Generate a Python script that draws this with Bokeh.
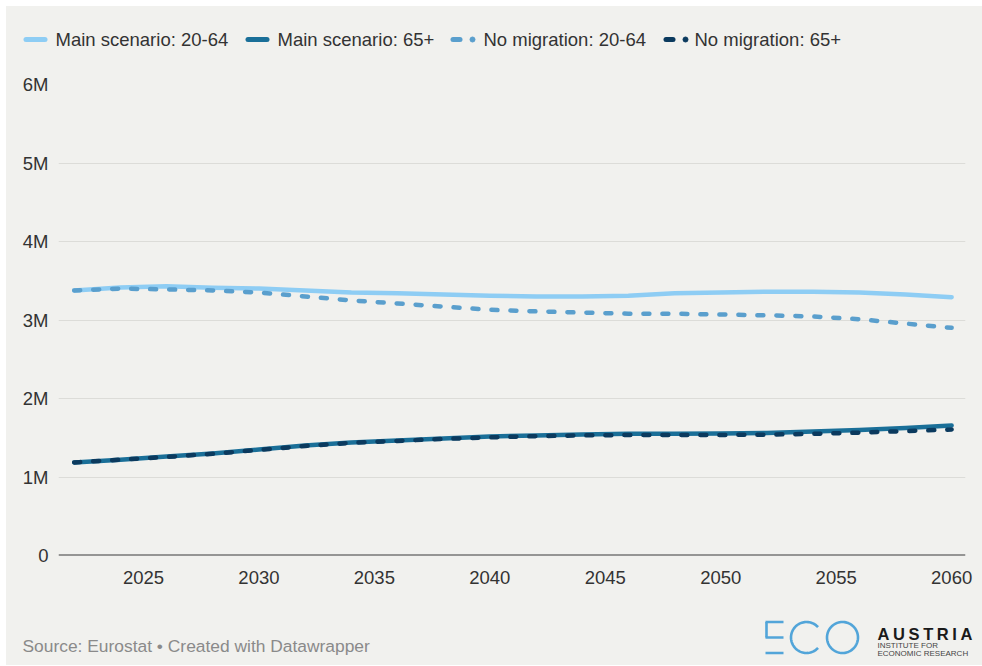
import numpy as np
from bokeh.plotting import figure
from bokeh.models import Range1d, Span, FixedTicker
from bokeh.core.properties import value
from bokeh.embed import file_html
from bokeh.resources import INLINE

# Working-age (20-64) and old-age (65+) population projections, Eurostat
years = [2022, 2024, 2026, 2028, 2030, 2032, 2034, 2036, 2038, 2040,
         2042, 2044, 2046, 2048, 2050, 2052, 2054, 2056, 2058, 2060]

main_20_64 = [3.376, 3.414, 3.430, 3.410, 3.400, 3.376, 3.350, 3.340, 3.325, 3.310,
              3.300, 3.300, 3.310, 3.340, 3.350, 3.360, 3.360, 3.350, 3.325, 3.290]
main_65 = [1.185, 1.220, 1.260, 1.300, 1.350, 1.400, 1.440, 1.465, 1.490, 1.515,
           1.530, 1.540, 1.550, 1.550, 1.555, 1.560, 1.580, 1.600, 1.625, 1.656]
nomig_20_64 = [3.376, 3.400, 3.390, 3.376, 3.350, 3.300, 3.250, 3.210, 3.170, 3.130,
               3.110, 3.095, 3.080, 3.080, 3.070, 3.060, 3.045, 3.010, 2.955, 2.900]
nomig_65 = [1.185, 1.220, 1.255, 1.295, 1.345, 1.395, 1.435, 1.460, 1.485, 1.505,
            1.520, 1.530, 1.535, 1.535, 1.535, 1.540, 1.550, 1.565, 1.585, 1.605]

series_labels = ["Main scenario: 20-64", "Main scenario: 65+",
                 "No migration: 20-64", "No migration: 65+"]
series_values = [main_20_64, main_65, nomig_20_64, nomig_65]
series_colors = ["#8ecdf4", "#1a6f98", "#5a9fcd", "#0b3a5e"]
series_dashed = [False, False, True, True]

x_ticks = [2025, 2030, 2035, 2040, 2045, 2050, 2055, 2060]
y_ticks = [0, 1e6, 2e6, 3e6, 4e6, 5e6, 6e6]
y_tick_labels = ["0", "1M", "2M", "3M", "4M", "5M", "6M"]

BG = "#f1f1ee"
TEXT = "#333333"
FONT = "Liberation Sans"
W = 976


def blank(height, margin):
    f = figure(width=W, height=height, x_range=Range1d(0, W), y_range=Range1d(height, 0),
               x_axis_type=None, y_axis_type=None, output_backend="svg",
               toolbar_location=None, min_border=0, margin=margin)
    f.grid.visible = False
    f.outline_line_color = None
    f.background_fill_color = BG
    f.border_fill_color = BG
    return f


# ---- header: legend row ----
header = blank(56, (0, 0, 0, 0))
legend_y = 33
sample_x = [17, 239, 444, 657]
label_x = [49, 271, 477, 688]
for lab, col, dashed, sx, lx in zip(series_labels, series_colors, series_dashed, sample_x, label_x):
    if dashed:
        header.segment(x0=[sx + 2.5], y0=[legend_y], x1=[sx + 9.5], y1=[legend_y],
                       line_color=col, line_width=5, line_cap="round")
        header.scatter(x=[sx + 22], y=[legend_y], size=5, color=col)
    else:
        header.segment(x0=[sx + 2.5], y0=[legend_y], x1=[sx + 21.5], y1=[legend_y],
                       line_color=col, line_width=5, line_cap="round")
    header.text(x=[lx], y=[legend_y], text=[lab], text_font=value(FONT),
                text_font_size="18.5px", text_color=TEXT,
                text_baseline="middle", text_align="left")

# ---- main chart ----
p = figure(width=W, height=533, x_range=Range1d(2021.32, 2060.6), y_range=Range1d(0, 6e6),
           min_border_left=52, min_border_right=17, min_border_top=22, min_border_bottom=40,
           output_backend="svg", toolbar_location=None, margin=(0, 0, 0, 0))
p.background_fill_color = BG
p.border_fill_color = BG
p.outline_line_color = None

for vals, col, dashed in zip(series_values, series_colors, series_dashed):
    y = np.array(vals) * 1e6
    if dashed:
        p.line(years, y, line_color=col, line_width=4.5, line_dash="6 13",
               line_cap="round", line_join="round")
    else:
        p.line(years, y, line_color=col, line_width=4.5, line_cap="round", line_join="round")

p.xgrid.visible = False
p.ygrid.grid_line_color = "#dcdcd8"
p.ygrid.grid_line_width = 1
p.ygrid.ticker = FixedTicker(ticks=y_ticks)

p.add_layout(Span(location=0, dimension="width", line_color="#3a3a3a", line_width=2))

p.yaxis.ticker = FixedTicker(ticks=y_ticks)
p.yaxis.major_label_overrides = {t: l for t, l in zip(y_ticks, y_tick_labels)}
p.xaxis.ticker = FixedTicker(ticks=x_ticks)
for ax in (p.xaxis[0], p.yaxis[0]):
    ax.axis_line_color = None
    ax.major_tick_line_color = None
    ax.minor_tick_line_color = None
    ax.major_tick_out = 0
    ax.major_tick_in = 0
    ax.minor_tick_out = 0
    ax.minor_tick_in = 0
    ax.major_label_text_font = FONT
    ax.major_label_text_font_size = "18.5px"
    ax.major_label_text_color = TEXT
p.yaxis.major_label_standoff = 10
p.xaxis.major_label_standoff = 15

# ---- footer: source line and logo ----
footer = blank(70, (0, 0, 0, 0))
footer.text(x=[16], y=[50], text=["Source: Eurostat \u2022 Created with Datawrapper"],
            text_font=value(FONT), text_font_size="17.4px", text_color="#8a8a8a",
            text_baseline="alphabetic", text_align="left")

logo_blue = "#52a5d9"
# E made of bars
footer.multi_line(xs=[[759, 777], [760, 760], [759, 777], [759, 777]],
                  ys=[[26.5, 26.5], [26.5, 42], [42, 42], [57.5, 57.5]],
                  line_color=logo_blue, line_width=2.6)
# C as an open arc, O as a ring
t = np.linspace(np.radians(42), np.radians(318), 60)
footer.line(x=800 + 15.5 * np.cos(t), y=42 - 15.5 * np.sin(t), line_color=logo_blue, line_width=2.6)
t2 = np.linspace(0, 2 * np.pi, 80)
footer.line(x=836 + 15.5 * np.cos(t2), y=42 - 15.5 * np.sin(t2), line_color=logo_blue, line_width=2.6)

word = "AUSTRIA"
widths = {"A": 0.722, "U": 0.722, "S": 0.667, "T": 0.611, "R": 0.722, "I": 0.278}
fs = 16.5
track = 3.6
xpos = 871.0
for ch in word:
    footer.text(x=[xpos], y=[38], text=[ch], text_font=value(FONT), text_font_style="bold",
                text_font_size=f"{fs}px", text_color="#1a1a1a",
                text_baseline="alphabetic", text_align="left")
    xpos += widths[ch] * fs + track
footer.text(x=[871, 871], y=[49.5, 57.7], text=["INSTITUTE FOR", "ECONOMIC RESEARCH"],
            text_font=value(FONT), text_font_size="8px", text_color="#444444",
            text_baseline="alphabetic", text_align="left")

# page: white edge, then a single grey card holding the three stacked panels
page_template = """
{% block postamble %}
<style>
  body { background: #ffffff; }
  .card { margin: 6px 0 0 6px; width: 976px; height: 659px; background: #f1f1ee;
          line-height: 0; overflow: hidden; }
</style>
{% endblock %}
{% block contents %}
<div class="card">
{{ super() }}
</div>
{% endblock %}
"""

open("out.html", "w").write(file_html([header, p, footer], INLINE, template=page_template))
